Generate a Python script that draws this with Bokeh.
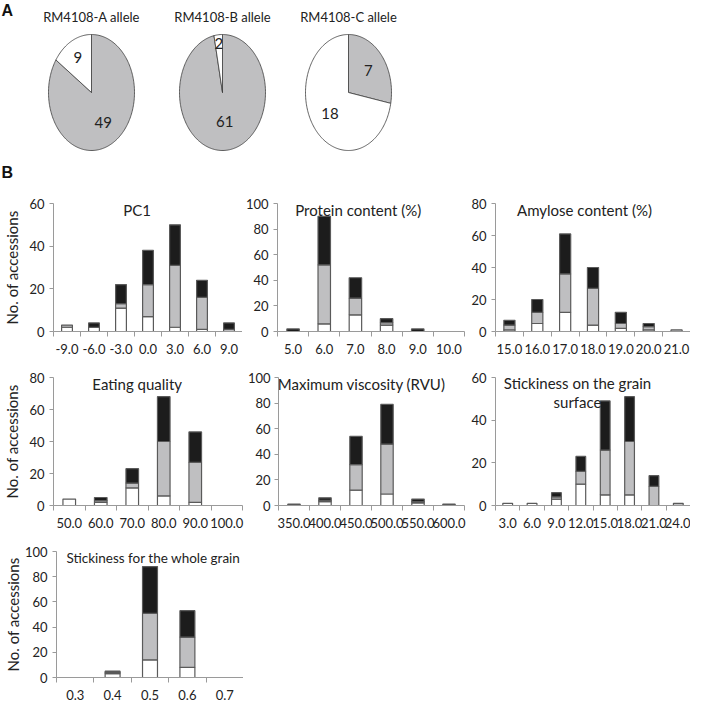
import math
from bokeh.plotting import figure
from bokeh.layouts import column, row
from bokeh.models import ColumnDataSource, Label, FixedTicker, Range1d
from bokeh.embed import file_html
from bokeh.resources import INLINE

# ---------------- data ----------------
pie_titles = ["RM4108-A allele", "RM4108-B allele", "RM4108-C allele"]
pie_gray = [49, 61, 7]
pie_white = [9, 2, 18]

pc1_cats = ["-9.0", "-6.0", "-3.0", "0.0", "3.0", "6.0", "9.0"]
pc1_white = [2, 2, 11, 7, 2, 1, 0]
pc1_gray = [1, 0, 2, 15, 29, 15, 1]
pc1_black = [0, 2, 9, 16, 19, 8, 3]

prot_cats = ["5.0", "6.0", "7.0", "8.0", "9.0", "10.0"]
prot_white = [0, 6, 13, 5, 0, 0]
prot_gray = [0, 46, 13, 2, 0, 0]
prot_black = [2, 38, 16, 3, 2, 0]

amy_cats = ["15.0", "16.0", "17.0", "18.0", "19.0", "20.0", "21.0"]
amy_white = [1, 5, 12, 4, 2, 1, 0]
amy_gray = [3, 7, 24, 23, 3, 2, 1]
amy_black = [3, 8, 25, 13, 7, 2, 0]

eat_cats = ["50.0", "60.0", "70.0", "80.0", "90.0", "100.0"]
eat_white = [4, 2, 11, 6, 2, 0]
eat_gray = [0, 1, 3, 34, 25, 0]
eat_black = [0, 2, 9, 28, 19, 0]

visc_cats = ["350.0", "400.0", "450.0", "500.0", "550.0", "600.0"]
visc_white = [0, 3, 12, 9, 2, 0]
visc_gray = [0, 1, 20, 39, 1, 0]
visc_black = [1, 2, 22, 31, 2, 1]

surf_cats = ["3.0", "6.0", "9.0", "12.0", "15.0", "18.0", "21.0", "24.0"]
surf_white = [1, 1, 3, 10, 5, 5, 0, 0]
surf_gray = [0, 0, 1, 6, 21, 25, 9, 1]
surf_black = [0, 0, 2, 7, 23, 21, 5, 0]

whole_cats = ["0.3", "0.4", "0.5", "0.6", "0.7"]
whole_white = [0, 3, 14, 8, 0]
whole_gray = [0, 1, 37, 24, 0]
whole_black = [0, 1, 37, 21, 0]

# ---------------- style ----------------
FONT = "Lato"
TXT = "#222222"
GRAY = "#bfbfc1"
BLACK = "#1c1c1c"
OUTLINE = "#5a5a5a"
AXIS = "#9a9a9a"


def base_fig(w, h, **kw):
    p = figure(width=w, height=h, output_backend="svg", toolbar_location=None,
               title=None, **kw)
    p.grid.visible = False
    p.outline_line_color = None
    p.background_fill_color = "white"
    p.border_fill_color = "white"
    return p


# ---------------- pies ----------------
TOP_H = 190
top = base_fig(690, TOP_H, x_range=Range1d(0, 690), y_range=Range1d(0, TOP_H),
               x_axis_type=None, y_axis_type=None,
               min_border_left=0, min_border_right=0, min_border_top=0, min_border_bottom=0)
PIE_CX = [91, 222, 348]
PIE_CY = 98
RX, RY = 43, 58
LABEL_F = [[0.58, 0.68], [0.5, 0.85], [0.6, 0.56]]

for i in range(3):
    cx = PIE_CX[i]
    total = pie_gray[i] + pie_white[i]
    start = math.pi / 2
    for j, (val, col) in enumerate([(pie_gray[i], GRAY), (pie_white[i], "white")]):
        sweep = 2 * math.pi * val / total
        n = max(3, int(sweep * 40))
        angs = [start - sweep * k / n for k in range(n + 1)]
        xs = [cx] + [cx + RX * math.cos(a) for a in angs]
        ys = [PIE_CY] + [PIE_CY + RY * math.sin(a) for a in angs]
        top.patch(xs, ys, fill_color=col, line_color="#3c3c3c", line_width=0.8)
        mid = start - sweep / 2
        f = LABEL_F[i][j]
        top.add_layout(Label(x=cx + f * RX * math.cos(mid), y=PIE_CY + f * RY * math.sin(mid),
                             text=str(val), text_font=FONT, text_font_size="15px",
                             text_color=TXT, text_align="center", text_baseline="middle"))
        start -= sweep
    top.add_layout(Label(x=cx, y=174, text=pie_titles[i], text_font=FONT, text_font_size="13px",
                         text_color=TXT, text_align="center", text_baseline="middle"))

top.add_layout(Label(x=1, y=189, text="A", text_font="Liberation Sans", text_font_style="bold",
                     text_font_size="16px", text_color="#111111", text_align="left",
                     text_baseline="top"))
top.add_layout(Label(x=1, y=18, text="B", text_font="Liberation Sans", text_font_style="bold",
                     text_font_size="16px", text_color="#111111", text_align="left",
                     text_baseline="middle"))


# ---------------- histograms ----------------
def hist(cats, white, gray, black, ymax, w, h, bl, br, bt, bb, title_lines, fx, fy,
         ylab_standoff=None, title_size="15px", ylabel_standoff=5):
    n = len(cats)
    fw = w - bl - br
    fh = h - bt - bb
    p = base_fig(w, h, x_range=Range1d(-0.5, n - 0.5), y_range=Range1d(0, ymax),
                 min_border_left=bl, min_border_right=br, min_border_top=bt, min_border_bottom=bb)
    bottom = [0] * n
    for vals, col in [(white, "white"), (gray, GRAY), (black, BLACK)]:
        xs, b0, t0 = [], [], []
        for k in range(n):
            if vals[k] > 0:
                xs.append(k)
                b0.append(bottom[k])
                t0.append(bottom[k] + vals[k])
            bottom[k] += vals[k]
        src = ColumnDataSource(dict(x=xs, bottom=b0, top=t0))
        p.vbar(x="x", bottom="bottom", top="top", width=0.4, source=src,
               fill_color=col, line_color=OUTLINE, line_width=1.2)

    xa = p.xaxis[0]
    xa.ticker = FixedTicker(ticks=list(range(n)), minor_ticks=[k - 0.5 for k in range(n + 1)])
    xa.major_label_overrides = {k: c for k, c in enumerate(cats)}
    xa.major_tick_out = 0
    xa.major_tick_in = 0
    xa.minor_tick_out = 5
    xa.minor_tick_in = 0
    xa.minor_tick_line_color = AXIS
    xa.axis_line_color = AXIS
    xa.major_label_standoff = 7
    xa.major_label_text_font = FONT
    xa.major_label_text_font_size = "13px"
    xa.major_label_text_color = TXT

    ya = p.yaxis[0]
    ya.ticker = FixedTicker(ticks=list(range(0, ymax + 1, 20)))
    ya.major_tick_out = 4
    ya.major_tick_in = 0
    ya.minor_tick_out = 0
    ya.minor_tick_in = 0
    ya.major_tick_line_color = AXIS
    ya.axis_line_color = AXIS
    ya.major_label_standoff = ylabel_standoff
    ya.major_label_text_font = FONT
    ya.major_label_text_font_size = "13px"
    ya.major_label_text_color = TXT
    if ylab_standoff is not None:
        ya.axis_label = "No. of accessions"
        ya.axis_label_standoff = ylab_standoff
        ya.axis_label_text_font = FONT
        ya.axis_label_text_font_size = "15px"
        ya.axis_label_text_font_style = "normal"
        ya.axis_label_text_color = TXT

    for li, t in enumerate(title_lines):
        yy = fy - 19 * li
        p.add_layout(Label(x=-0.5 + n * fx / fw, y=ymax * yy / fh, text=t,
                           text_font=FONT, text_font_size=title_size, text_color=TXT,
                           text_align="center", text_baseline="middle"))
    return p


p1 = hist(pc1_cats, pc1_white, pc1_gray, pc1_black, 60, 242, 166, 50, 0, 13, 24,
          ["PC1"], 85, 122, 5)
p2 = hist(prot_cats, prot_white, prot_gray, prot_black, 100, 224, 166, 32, 2, 13, 24,
          ["Protein content (%)"], 82, 122)
p3 = hist(amy_cats, amy_white, amy_gray, amy_black, 80, 224, 166, 29, 0, 13, 24,
          ["Amylose content (%)"], 89, 122)

p4 = hist(eat_cats, eat_white, eat_gray, eat_black, 80, 244, 174, 50, 2, 21, 24,
          ["Eating quality"], 85, 122, 5)
p5 = hist(visc_cats, visc_white, visc_gray, visc_black, 100, 222, 174, 30, 2, 21, 24,
          ["Maximum viscosity (RVU)"], 85, 122, None, "15px", 4)
p6 = hist(surf_cats, surf_white, surf_gray, surf_black, 60, 224, 174, 29, 0, 21, 24,
          ["Stickiness on the grain", "surface"], 82, 123)

p7 = hist(whole_cats, whole_white, whole_gray, whole_black, 100, 243, 172, 52, 0, 21, 24,
          ["Stickiness for the whole grain"], 99, 120, 0, "13.5px")

layout = column(row(top), row(p1, p2, p3), row(p4, p5, p6), row(p7))

with open("out.html", "w") as fh:
    fh.write(file_html(layout, INLINE))
